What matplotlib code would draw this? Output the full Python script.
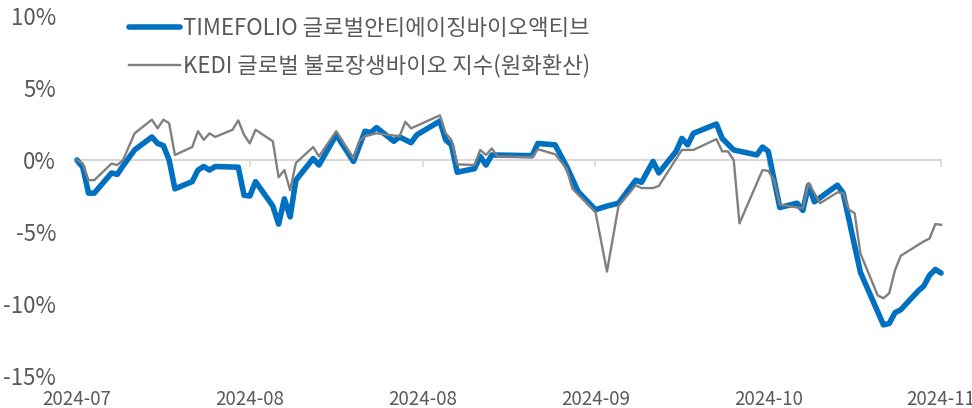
import numpy as np
import matplotlib.pyplot as plt
from matplotlib.ticker import FuncFormatter

plt.rcParams['font.family'] = ['Noto Sans CJK KR', 'DejaVu Sans']
plt.rcParams['axes.unicode_minus'] = False

start = np.datetime64('2024-07-02')

fund_label = 'TIMEFOLIO 글로벌안티에이징바이오액티브'
index_label = 'KEDI 글로벌 불로장생바이오 지수(원화환산)'

# days since start date, cumulative return in %
fund_days = [0, 1, 2, 3, 6, 7, 8, 10, 13, 14, 15, 16, 17, 20, 21, 22, 23, 24, 28, 29,
             30, 31, 34, 35, 36, 37, 38, 41, 42, 45, 48, 50, 51, 52, 55, 56, 58, 59, 63, 64,
             65, 66, 69, 70, 71, 72, 79, 80, 83, 85, 87, 90, 92, 94, 97, 98, 100, 101, 104, 105,
             106, 107, 111, 112, 114, 118, 119, 120, 122, 125, 126, 127, 128, 132, 133, 136, 140, 141, 142, 143,
             146, 147, 148, 149, 150]
fund_ret = [0.0, -0.5, -2.3, -2.3, -0.9, -1.0, -0.4, 0.7, 1.6, 1.15, 1.0, 0.0, -2.0, -1.5, -0.7, -0.45, -0.7, -0.45, -0.5, -2.45,
            -2.5, -1.5, -3.2, -4.45, -2.7, -3.95, -1.4, 0.1, -0.35, 1.75, -0.1, 2.0, 1.9, 2.25, 1.3, 1.6, 1.2, 1.75, 2.7, 1.4,
            1.05, -0.85, -0.6, 0.25, -0.35, 0.35, 0.3, 1.15, 1.05, -0.45, -2.2, -3.45, -3.2, -3.0, -1.4, -1.55, -0.1, -0.9, 0.6, 1.5,
            1.05, 1.85, 2.5, 1.5, 0.7, 0.35, 0.9, 0.6, -3.3, -3.0, -3.5, -1.75, -2.9, -1.75, -2.3, -7.8, -11.45, -11.35, -10.6, -10.4,
            -9.1, -8.75, -8.0, -7.6, -7.85]

index_days = [0, 1, 2, 3, 6, 7, 8, 10, 13, 14, 15, 16, 17, 20, 21, 22, 23, 24, 27, 28,
              29, 30, 31, 34, 35, 36, 37, 38, 41, 42, 45, 48, 49, 50, 52, 56, 57, 58, 63, 64,
              65, 66, 69, 70, 71, 72, 73, 79, 80, 83, 85, 86, 90, 92, 94, 97, 98, 100, 101, 105,
              107, 111, 112, 113, 114, 115, 119, 120, 121, 122, 125, 126, 127, 129, 132, 133, 134, 135, 136, 139,
              140, 141, 142, 143, 147, 148, 149, 150]
index_ret = [0.0, -0.25, -1.4, -1.4, -0.25, -0.35, 0.0, 1.85, 2.8, 2.2, 2.8, 2.55, 0.35, 0.9, 2.0, 1.4, 1.85, 1.6, 2.1, 2.75,
             1.75, 1.15, 2.1, 1.3, -1.2, -0.7, -2.1, -0.2, 0.9, 0.25, 2.0, 0.1, 1.3, 1.65, 1.85, 1.65, 2.65, 2.2, 3.1, 1.85,
             1.4, -0.3, -0.35, 0.7, 0.35, 0.8, 0.25, 0.2, 0.75, 0.4, -0.6, -2.0, -3.6, -7.75, -3.2, -1.75, -1.95, -1.95, -1.8, 0.7,
             0.7, 1.45, 0.6, 0.6, 0.0, -4.4, -0.7, -0.75, -1.4, -3.1, -3.3, -3.35, -1.6, -3.0, -2.25, -2.3, -3.45, -3.7, -6.5, -9.4,
             -9.6, -9.25, -7.65, -6.65, -5.65, -5.45, -4.45, -4.5]

tick_days = [0, 30, 60, 90, 120, 150]
y_ticks = [10, 5, 0, -5, -10, -15]

text_grey = '#595959'

fig = plt.figure(figsize=(9.72, 4.08), dpi=100)
ax = fig.add_axes([0.0792, 0.0784, 0.889, 0.8824])

ax.plot(fund_days, fund_ret, color='#0070C0', lw=4, solid_joinstyle='round',
        solid_capstyle='round', label=fund_label, clip_on=False, zorder=3)
ax.plot(index_days, index_ret, color='#808080', lw=1.7, label=index_label,
        clip_on=False, zorder=4)

ax.set_xlim(0, 150)
ax.set_ylim(-15, 10)

for side in ['left', 'right', 'top']:
    ax.spines[side].set_visible(False)
ax.spines['bottom'].set_position(('data', 0))
ax.spines['bottom'].set_color('#D9D9D9')
ax.spines['bottom'].set_linewidth(1.5)
ax.set_xticks(tick_days)
ax.tick_params(axis='x', direction='out', length=5, width=1.2, color='#D9D9D9',
               labelbottom=False)

ax.set_yticks(y_ticks)
ax.yaxis.set_major_formatter(FuncFormatter(lambda v, p: f'{v:.0f}%'))
ax.tick_params(axis='y', length=0, pad=15, labelsize=16, labelcolor=text_grey)

# month labels sit at the bottom, not on the zero line
sec = ax.secondary_xaxis('bottom')
sec.set_xticks(tick_days)
sec.xaxis.set_major_formatter(FuncFormatter(
    lambda v, p: str((start + np.timedelta64(int(round(v)), 'D')).astype('datetime64[M]'))))
sec.tick_params(length=0, pad=9, labelsize=13.5, labelcolor=text_grey)
sec.spines['bottom'].set_visible(False)

ax.legend(loc='upper left', bbox_to_anchor=(129 / 972, 1 - 17 / 408),
          bbox_transform=fig.transFigure, frameon=False, fontsize=16,
          handlelength=2.3, handletextpad=0.15, labelspacing=0.62,
          borderpad=0, borderaxespad=0, labelcolor=text_grey)

fig.savefig('out.png', dpi=100)
